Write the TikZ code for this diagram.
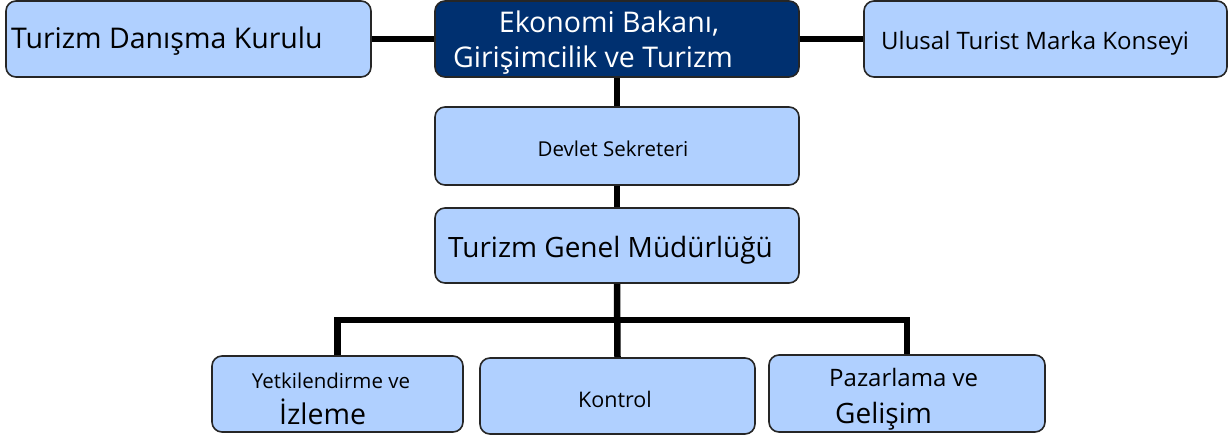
\documentclass[tikz,border=0pt]{standalone}
\usepackage{fontspec}
\setmainfont{Open Sans}
\definecolor{boxblue}{RGB}{176,208,255}
\definecolor{navy}{RGB}{0,48,112}
\begin{document}
\begin{tikzpicture}[x=1pt,y=-1pt,
  box/.style={draw=black!85, line width=1.6pt, rounded corners=10pt, fill=boxblue, inner sep=0pt},
  conn/.style={line width=6.5pt, draw=black},
  txt/.style={inner sep=0pt, text=black}]
\useasboundingbox (0,0) rectangle (1232,439);
% boxes
\node[box, minimum width=365pt, minimum height=76pt] (tdk) at (188.5,39) {};
\node[box, fill=navy, minimum width=364pt, minimum height=76pt] (min) at (617,39) {};
\node[box, minimum width=363pt, minimum height=76pt] (utm) at (1045.5,39) {};
\node[box, minimum width=364pt, minimum height=78pt] (ds) at (617,146) {};
\node[box, minimum width=364pt, minimum height=75pt] (gm) at (617,245.5) {};
\node[box, minimum width=251pt, minimum height=76pt] (yet) at (337.5,394) {};
\node[box, minimum width=275pt, minimum height=76pt] (kon) at (617.5,396) {};
\node[box, minimum width=276pt, minimum height=77pt] (paz) at (907,393.5) {};
% connectors
\coordinate (bar) at (617,320);
\draw[conn] (tdk.east) -- (min.west);
\draw[conn] (min.east) -- (utm.west);
\draw[conn] (min.south) -- (ds.north);
\draw[conn] (ds.south) -- (gm.north);
\draw[conn] (gm.south) -- (kon.north);
\draw[conn] (yet.north) |- (bar) -| (paz.north);
% texts
\node[txt, anchor=base west, font=\fontsize{28.5}{34}\selectfont] (t1) at (11,48) {Turizm Danışma Kurulu};
\node[txt, anchor=base, text=white, font=\fontsize{28.5}{34}\selectfont] (t2a) at (609,32) {Ekonomi Bakanı,};
\node[txt, anchor=base, text=white, font=\fontsize{28.5}{34}\selectfont] (t2b) at (593,67) {Girişimcilik ve Turizm};
\node[txt, anchor=base west, font=\fontsize{24}{29}\selectfont] (t3) at (881,49.5) {Ulusal Turist Marka Konseyi};
\node[txt, anchor=base, font=\fontsize{20.5}{25}\selectfont] (t4) at (613,156) {Devlet Sekreteri};
\node[txt, anchor=base, font=\fontsize{28}{34}\selectfont] (t5) at (610.5,257) {Turizm Genel Müdürlüğü};
\node[txt, anchor=base, font=\fontsize{20.5}{25}\selectfont] (t6a) at (331,388.5) {Yetkilendirme ve};
\node[txt, anchor=base west, font=\fontsize{28.5}{34}\selectfont] (t6b) at (279,424) {İzleme};
\node[txt, anchor=base, font=\fontsize{21.5}{26}\selectfont] (t7) at (615,407) {Kontrol};
\node[txt, anchor=base west, font=\fontsize{24}{29}\selectfont] (t8a) at (829,386.5) {Pazarlama ve};
\node[txt, anchor=base west, font=\fontsize{28}{34}\selectfont] (t8b) at (835,423.5) {Gelişim};
\end{tikzpicture}
\end{document}
